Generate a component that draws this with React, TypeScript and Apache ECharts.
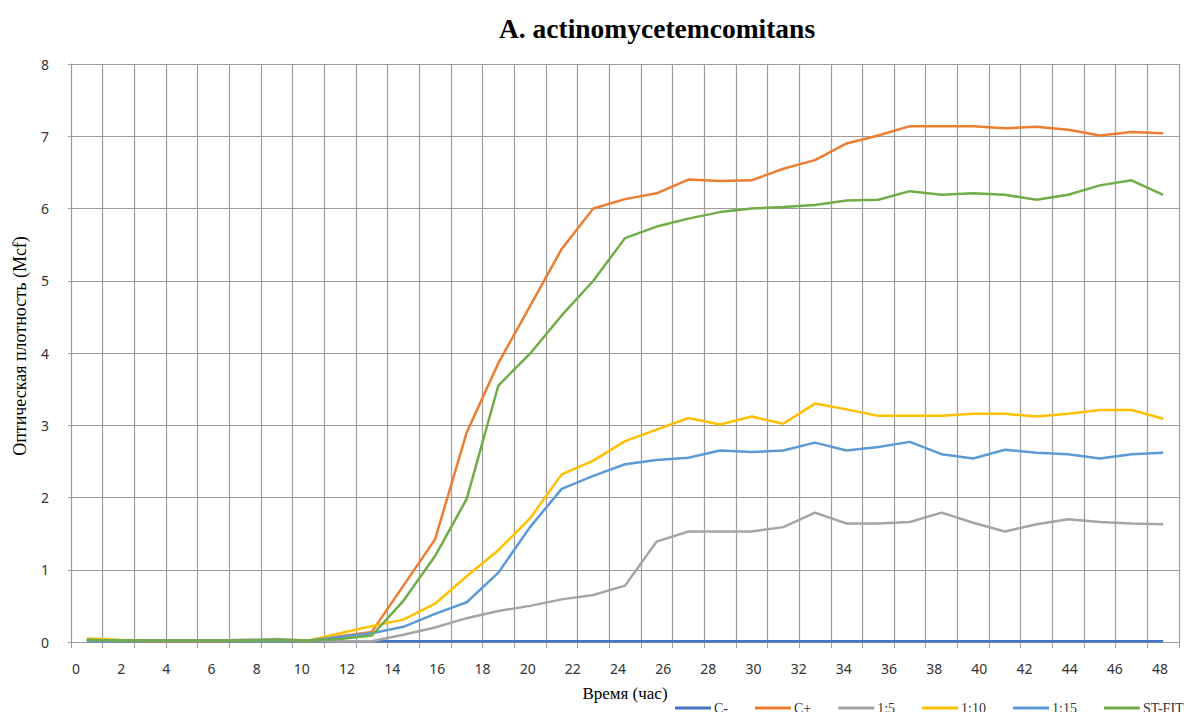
import React, { useEffect, useRef } from "react";
import * as echarts from "echarts";

// Sampling times (hours) of the optical density readings
const hours = [
  "0.5", "1.9", "3.3", "4.7", "6.1", "7.5", "8.9", "10.3", "11.7", "13.1",
  "14.5", "15.9", "17.3", "18.7", "20.1", "21.5", "22.9", "24.3", "25.7", "27.1",
  "28.5", "29.9", "31.3", "32.7", "34.1", "35.5", "36.9", "38.3", "39.7", "41.1",
  "42.5", "43.9", "45.3", "46.7", "48.1",
];

// Range of the hour scale printed under the plot
const hourTicks = [0, 48];

const cMinus = [
  0.01, 0.01, 0.01, 0.01, 0.01, 0.01, 0.01, 0.01, 0.01, 0.01,
  0.01, 0.01, 0.01, 0.01, 0.01, 0.01, 0.01, 0.01, 0.01, 0.01,
  0.01, 0.01, 0.01, 0.01, 0.01, 0.01, 0.01, 0.01, 0.01, 0.01,
  0.01, 0.01, 0.01, 0.01, 0.01,
];
const cPlus = [
  0.02, 0.02, 0.01, 0.01, 0.01, 0.02, 0.02, 0.01, 0.08,
  0.14, 0.78, 1.42, 2.9, 3.86, 4.65, 5.44, 6.0, 6.13,
  6.21, 6.4, 6.38, 6.39, 6.55, 6.67, 6.9, 7.01, 7.14,
  7.14, 7.14, 7.11, 7.13, 7.09, 7.01, 7.06, 7.04,
];
const dil5 = [
  0.02, 0.02, 0.02, 0.02, 0.02, 0.03, 0.04, 0.02, 0.01,
  0.01, 0.1, 0.2, 0.33, 0.43, 0.5, 0.59, 0.65, 0.78,
  1.39, 1.53, 1.53, 1.53, 1.59, 1.79, 1.64, 1.64, 1.66,
  1.79, 1.65, 1.53, 1.63, 1.7, 1.66, 1.64, 1.63,
];
const dil10 = [
  0.05, 0.03, 0.02, 0.02, 0.02, 0.02, 0.02, 0.02, 0.12,
  0.22, 0.31, 0.53, 0.91, 1.27, 1.71, 2.32, 2.51, 2.78,
  2.94, 3.1, 3.01, 3.12, 3.02, 3.3, 3.22, 3.13, 3.13,
  3.13, 3.16, 3.16, 3.12, 3.16, 3.21, 3.21, 3.09,
];
const dil15 = [
  0.02, 0.02, 0.02, 0.02, 0.02, 0.02, 0.02, 0.02, 0.07,
  0.12, 0.21, 0.39, 0.55, 0.96, 1.59, 2.12, 2.3, 2.46,
  2.52, 2.55, 2.65, 2.63, 2.65, 2.76, 2.65, 2.7, 2.77,
  2.6, 2.54, 2.66, 2.62, 2.6, 2.54, 2.6, 2.62,
];
const stFit = [
  0.03, 0.02, 0.02, 0.02, 0.02, 0.02, 0.03, 0.02, 0.04,
  0.09, 0.57, 1.19, 1.98, 3.55, 3.99, 4.52, 5.0, 5.59,
  5.75, 5.86, 5.95, 6.0, 6.02, 6.05, 6.11, 6.12, 6.24,
  6.19, 6.21, 6.19, 6.12, 6.19, 6.32, 6.39, 6.19,
];

const seriesNames = ["C-", "C+", "1:5", "1:10", "1:15", "ST-FIT"];
const seriesData = [cMinus, cPlus, dil5, dil10, dil15, stFit];
const seriesColors = ["#4472C4", "#ED7D31", "#A5A5A5", "#FFC000", "#5B9BD5", "#70AD47"];

const gridColor = "#9c9c9c";
const serif = "'Liberation Serif', 'Times New Roman', serif";
const sans = "'Noto Sans', 'Liberation Sans', sans-serif";

export default function App() {
  const ref = useRef<HTMLDivElement>(null);

  useEffect(() => {
    if (!ref.current) return;
    const chart = echarts.init(ref.current, undefined, { renderer: "svg" });

    chart.setOption({
      animation: false,
      backgroundColor: "#ffffff",
      title: {
        text: "A. actinomycetemcomitans",
        left: 652,
        top: 9,
        textAlign: "center",
        textStyle: { fontFamily: serif, fontWeight: "bold", fontSize: 27.5, color: "#000" },
      },
      legend: {
        data: seriesNames,
        left: 675,
        top: 701,
        padding: 0,
        itemGap: 27,
        itemWidth: 36,
        itemHeight: 3,
        icon: "rect",
        textStyle: { fontFamily: serif, fontSize: 14, color: "#333", padding: [0, 0, 0, -2] },
      },
      graphic: [
        {
          type: "text",
          x: 20,
          y: 346,
          rotation: Math.PI / 2,
          style: {
            text: "Оптическая плотность (Mcf)",
            fontFamily: serif,
            fontSize: 18,
            fill: "#000",
            align: "center",
            verticalAlign: "middle",
          },
        },
      ],
      grid: [
        { left: 71, right: 8, top: 64, bottom: 70, containLabel: false },
        { left: 76, right: 27, top: 64, bottom: 70, containLabel: false },
      ],
      xAxis: [
        {
          type: "category",
          gridIndex: 0,
          data: hours,
          boundaryGap: true,
          name: "Время (час)",
          nameLocation: "middle",
          nameGap: 43,
          nameTextStyle: { fontFamily: serif, fontSize: 17, color: "#000" },
          axisLine: { show: true, lineStyle: { color: gridColor, width: 1 } },
          axisTick: { show: true, interval: 0, length: 6, lineStyle: { color: gridColor } },
          axisLabel: { show: false },
          splitLine: { show: true, interval: 0, lineStyle: { color: gridColor, width: 1.2 } },
        },
        {
          type: "value",
          gridIndex: 1,
          min: hourTicks[0],
          max: hourTicks[1],
          interval: 2,
          axisLine: { show: false },
          axisTick: { show: false },
          splitLine: { show: false },
          axisLabel: { margin: 19, fontFamily: sans, fontSize: 14, color: "#333" },
        },
      ],
      yAxis: [
        {
          type: "value",
          gridIndex: 0,
          min: 0,
          max: 8,
          interval: 1,
          axisLine: { show: true, lineStyle: { color: gridColor, width: 1 } },
          axisTick: { show: true, length: 3, lineStyle: { color: gridColor } },
          axisLabel: { margin: 22, fontFamily: sans, fontSize: 14, color: "#333" },
          splitLine: { show: true, lineStyle: { color: gridColor, width: 1.2 } },
        },
        { type: "value", gridIndex: 1, min: 0, max: 8, show: false },
      ],
      series: seriesNames.map((name, i) => ({
        name,
        type: "line",
        xAxisIndex: 0,
        yAxisIndex: 0,
        data: seriesData[i],
        showSymbol: false,
        symbol: "none",
        lineStyle: { color: seriesColors[i], width: 2.5 },
        itemStyle: { color: seriesColors[i] },
      })),
    });

    return () => chart.dispose();
  }, []);

  return (
    <div
      ref={ref}
      style={{ position: "fixed", left: 0, top: 0, width: 1187, height: 712, background: "#fff" }}
    />
  );
}
